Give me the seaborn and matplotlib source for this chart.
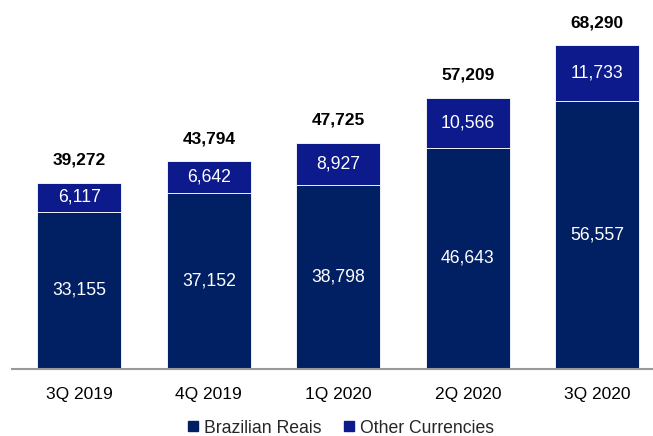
import matplotlib
matplotlib.use("Agg")
import matplotlib.pyplot as plt
from matplotlib.lines import Line2D
import seaborn as sns
import pandas as pd

quarters = ["3Q 2019", "4Q 2019", "1Q 2020", "2Q 2020", "3Q 2020"]
brazilian_reais = [33155, 37152, 38798, 46643, 56557]
other_currencies = [6117, 6642, 8927, 10566, 11733]
totals = [39272, 43794, 47725, 57209, 68290]

navy = "#012063"
blue = "#0c1a8c"

sns.set_theme(style="white")
plt.rcParams["font.family"] = ["Liberation Sans", "DejaVu Sans"]

df = pd.DataFrame({"quarter": quarters, "brl": brazilian_reais,
                   "other": other_currencies, "total": totals})

fig = plt.figure(figsize=(6.53, 4.36), dpi=100)
ax = fig.add_axes([12 / 653, 67 / 436, 641 / 653, 359 / 436])

sns.barplot(data=df, x="quarter", y="brl", color=navy, width=0.65,
            saturation=1, ax=ax, edgecolor="white", linewidth=0.6)
sns.barplot(data=df, x="quarter", y="other", bottom=df["brl"], color=blue,
            width=0.65, saturation=1, ax=ax, edgecolor="white", linewidth=0.6)

for i, (b, o, t) in enumerate(zip(brazilian_reais, other_currencies, totals)):
    ax.text(i, b / 2, f"{b:,}", ha="center", va="center", color="white", fontsize=12.7)
    ax.text(i, b + o / 2, f"{o:,}", ha="center", va="center", color="white", fontsize=12.7)
    ax.text(i, t + 4700, f"{t:,}", ha="center", va="center", color="black",
            fontsize=12.5, fontweight="bold")

ax.set_xlim(-0.52, 4.43)
ax.set_ylim(0, 75660)
ax.set_xlabel("")
ax.set_ylabel("")
ax.set_yticks([])
ax.tick_params(axis="x", length=0, pad=13, labelsize=12.5, labelcolor="black")
for side in ["top", "right", "left"]:
    ax.spines[side].set_visible(False)
ax.spines["bottom"].set_color("#999999")
ax.spines["bottom"].set_linewidth(1.5)

handles = [Line2D([], [], marker="s", linestyle="none", markersize=7.5,
                  markerfacecolor=c, markeredgecolor=c) for c in (navy, blue)]
fig.legend(handles, ["Brazilian Reais", "Other Currencies"], loc="center",
           bbox_to_anchor=(340 / 653, 1 - 428 / 436), ncol=2, frameon=False,
           fontsize=12.7, handlelength=0.8, handletextpad=0.2,
           columnspacing=1.2)

fig.savefig("out.png", dpi=100)
